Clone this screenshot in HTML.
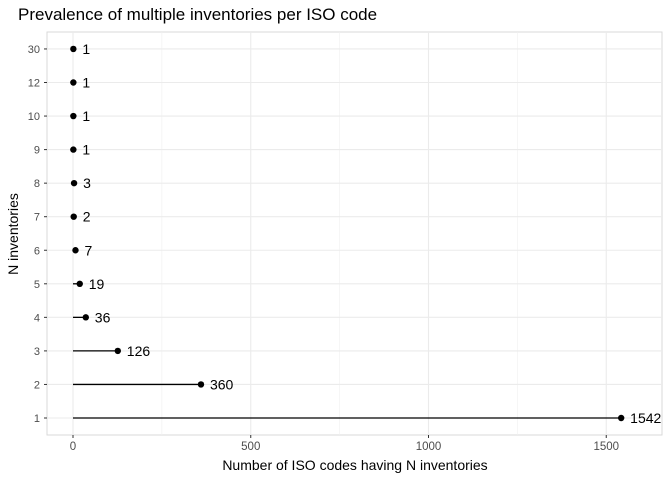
<!DOCTYPE html>
<html><head><meta charset="utf-8"><style>
body{margin:0;background:#fff;font-family:"Liberation Sans",Arial,sans-serif}
</style></head><body>
<svg width="672" height="480" xmlns="http://www.w3.org/2000/svg">
<text x="18" y="20" font-size="17" fill="#000">Prevalence of multiple inventories per ISO code</text>
<g id="grid"></g>
<g id="marks"></g>
<g id="axes"></g>
<text x="355" y="470" font-size="14" text-anchor="middle">Number of ISO codes having N inventories</text>
<text transform="translate(18,234) rotate(-90)" font-size="14" text-anchor="middle">N inventories</text>
</svg>
<script>
const categories = ["1","2","3","4","5","6","7","8","9","10","12","30"];
const counts = [1542,360,126,36,19,7,2,3,1,1,1,1];
const xTicks = [0,500,1000,1500];
const NS="http://www.w3.org/2000/svg";
const L=47,R=662,T=32,B=435;
const x=v=>73+v*0.3555;
const y=i=>418-i*33.55;
function mk(tag,attrs,parent,txt){const e=document.createElementNS(NS,tag);for(const k in attrs)e.setAttribute(k,attrs[k]);if(txt!==undefined)e.textContent=txt;document.getElementById(parent).appendChild(e);return e;}
const bg=mk("rect",{x:L,y:T,width:R-L,height:B-T,fill:"#fff",stroke:"#d9d9d9","stroke-width":1},"grid");


for(let i=0;i<xTicks.length-1;i++){const m=(xTicks[i]+xTicks[i+1])/2;const g=mk("line",{x1:x(m),x2:x(m),y1:T,y2:B,stroke:"#f0f0f0","stroke-width":0.6},"grid");}
xTicks.forEach(t=>{const g=mk("line",{x1:x(t),x2:x(t),y1:T,y2:B,stroke:"#ebebeb","stroke-width":1.1},"grid");
const l=mk("text",{x:x(t),y:450,"font-size":11.5,fill:"#4d4d4d","text-anchor":"middle"},"axes",String(t));
const k=mk("line",{x1:x(t),x2:x(t),y1:B,y2:B+3,stroke:"#333"},"axes");});
categories.forEach((c,i)=>{const g=mk("line",{x1:L,x2:R,y1:y(i),y2:y(i),stroke:"#ebebeb","stroke-width":1.1},"grid");
const l=mk("text",{x:40,y:y(i)+4,"font-size":11,fill:"#4d4d4d","text-anchor":"end"},"axes",c);
const k=mk("line",{x1:L-3,x2:L,y1:y(i),y2:y(i),stroke:"#333"},"axes");
const v=counts[i];
const s=mk("line",{x1:x(0),x2:x(v),y1:y(i),y2:y(i),stroke:"#000","stroke-width":1.3},"marks");
const p=mk("circle",{cx:x(v),cy:y(i),r:3.2,fill:"#000"},"marks");
const t=mk("text",{x:x(v)+9,y:y(i)+5,"font-size":14,fill:"#000"},"marks",String(v));});
</script>
</body></html>
